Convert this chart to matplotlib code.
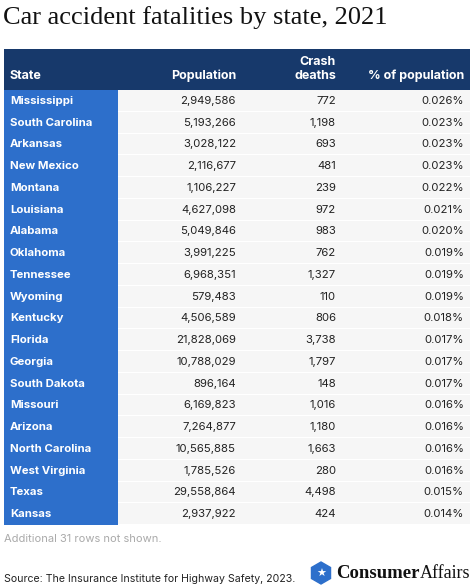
import matplotlib.pyplot as plt
from matplotlib.patches import Rectangle, RegularPolygon

plt.rcParams["font.family"] = ["Inter", "DejaVu Sans"]

states = ["Mississippi", "South Carolina", "Arkansas", "New Mexico", "Montana",
          "Louisiana", "Alabama", "Oklahoma", "Tennessee", "Wyoming", "Kentucky",
          "Florida", "Georgia", "South Dakota", "Missouri", "Arizona",
          "North Carolina", "West Virginia", "Texas", "Kansas"]
population = [2949586, 5193266, 3028122, 2116677, 1106227, 4627098, 5049846,
              3991225, 6968351, 579483, 4506589, 21828069, 10788029, 896164,
              6169823, 7264877, 10565885, 1785526, 29558864, 2937922]
deaths = [772, 1198, 693, 481, 239, 972, 983, 762, 1327, 110, 806, 3738, 1797,
          148, 1016, 1180, 1663, 280, 4498, 424]
pct = [0.026, 0.023, 0.023, 0.023, 0.022, 0.021, 0.020, 0.019, 0.019, 0.019,
       0.018, 0.017, 0.017, 0.017, 0.016, 0.016, 0.016, 0.016, 0.015, 0.014]

W, H = 474, 588
fig = plt.figure(figsize=(W / 100, H / 100), dpi=100)
ax = fig.add_axes([0, 0, 1, 1])
ax.set_xlim(0, W)
ax.set_ylim(H, 0)
ax.axis("off")

navy = "#17396b"
blue = "#2d6fcb"
left, right = 4, 470
top, hdr_h, row_h = 49, 41, 21.75

ax.text(3, 18, "Car accident fatalities by state, 2021", fontsize=19,
        family=["Liberation Serif"], va="center", ha="left", color="#111111")

ax.add_patch(Rectangle((left, top), right - left, hdr_h, color=navy, lw=0))
hy = top + 27
ax.text(10, hy, "State", color="white", weight="bold", fontsize=9, va="center")
ax.text(236, hy, "Population", color="white", weight="bold", fontsize=9, va="center", ha="right")
ax.text(336, hy, "deaths", color="white", weight="bold", fontsize=9, va="center", ha="right")
ax.text(336, hy - 14, "Crash", color="white", weight="bold", fontsize=9, va="center", ha="right")
ax.text(464, hy, "% of population", color="white", weight="bold", fontsize=9, va="center", ha="right")

y0 = top + hdr_h
for i, s in enumerate(states):
    y = y0 + i * row_h
    ax.add_patch(Rectangle((left, y), right - left, row_h - 1, color="#f6f6f6", lw=0))
    ax.add_patch(Rectangle((left, y), 114, row_h, color=blue, lw=0))
    cy = y + row_h / 2
    ax.text(10, cy, s, color="white", weight="bold", fontsize=8.2, va="center")
    ax.text(236, cy, f"{population[i]:,}", fontsize=8.2, va="center", ha="right", color="#222222")
    ax.text(336, cy, f"{deaths[i]:,}", fontsize=8.2, va="center", ha="right", color="#222222")
    ax.text(464, cy, f"{pct[i]:.3f}%", fontsize=8.2, va="center", ha="right", color="#222222")

ax.text(4, 539, "Additional 31 rows not shown.", fontsize=8, color="#aaaaaa", va="center")
ax.text(4, 579, "Source: The Insurance Institute for Highway Safety, 2023.", fontsize=7.6,
        color="#222222", va="center")

ax.add_patch(RegularPolygon((321, 573), 6, radius=11, color="#2d6fcb"))
ax.text(321, 573.5, "★", color="white", fontsize=8, ha="center", va="center",
        family=["DejaVu Sans"])
ax.text(336, 573, "Consumer", fontsize=13.5, weight="bold", family=["Liberation Serif"],
        va="center", color="#111111")
ax.text(470, 573, "Affairs", fontsize=13, family=["Liberation Serif"], va="center",
        ha="right", color="#111111")

fig.savefig("out.png", dpi=100)
